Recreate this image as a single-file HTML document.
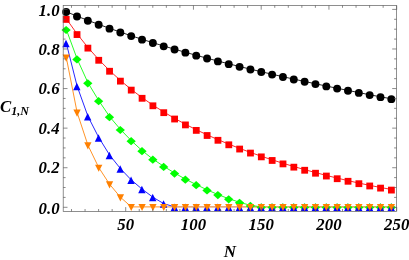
<!DOCTYPE html>
<html><head><meta charset="utf-8"><style>
html,body{margin:0;padding:0;background:#fff;}
body{width:409px;height:260px;overflow:hidden;}
svg{display:block;transform:translateZ(0);will-change:transform;}
text{font-family:"Liberation Serif",serif;font-weight:bold;font-style:italic;font-size:16.8px;fill:#000;}
</style></head><body>
<svg width="409" height="260" viewBox="0 0 409 260">
<rect x="0" y="0" width="409" height="260" fill="#fff"/>
<g transform="translate(0,-0.3)">
<polyline points="66.30,12.07 77.14,16.49 87.98,20.74 98.82,24.73 109.66,28.67 120.50,32.46 131.34,36.11 142.18,39.64 153.02,43.05 163.86,46.35 174.70,49.54 185.54,52.64 196.38,55.64 207.22,58.56 218.06,61.40 228.90,64.17 239.74,66.87 250.58,69.50 261.42,72.07 272.26,74.58 283.10,77.04 293.94,79.45 304.78,81.80 315.62,84.11 326.46,86.38 337.30,88.60 348.14,90.77 358.98,92.90 369.82,95.09 380.66,97.13 391.50,99.13" fill="none" stroke="#000000" stroke-width="0.85"/>
<polyline points="66.30,19.12 77.14,34.27 87.98,47.83 98.82,59.99 109.66,70.95 120.50,80.84 131.34,89.82 142.18,98.00 153.02,105.49 163.86,112.37 174.70,118.72 185.54,124.61 196.38,130.09 207.22,135.20 218.06,140.00 228.90,144.50 239.74,148.75 250.58,152.77 261.42,156.57 272.26,160.17 283.10,163.60 293.94,166.86 304.78,169.96 315.62,172.92 326.46,175.74 337.30,178.42 348.14,180.98 358.98,183.39 369.82,185.68 380.66,187.81 391.50,189.79" fill="none" stroke="#ff0000" stroke-width="0.85"/>
<polyline points="66.30,29.80 77.14,59.20 87.98,83.10 98.82,101.00 109.66,117.00 120.50,129.80 131.34,141.00 142.18,151.00 153.02,159.50 163.86,166.70 174.70,173.40 185.54,179.50 196.38,185.00 207.22,190.20 218.06,194.90 228.90,199.10 239.74,202.60 250.58,205.70 261.42,207.20" fill="none" stroke="#00ff00" stroke-width="0.85"/>
<polyline points="261.42,207.20 272.26,207.20 283.10,207.20 293.94,207.20 304.78,207.20 315.62,207.20 326.46,207.20 337.30,207.20 348.14,207.20 358.98,207.20 369.82,207.20 380.66,207.20 391.50,207.20" fill="none" stroke="#00ff00" stroke-width="0.85" stroke-opacity="0.3"/>
<polyline points="66.30,43.50 77.14,86.50 87.98,116.70 98.82,137.90 109.66,155.40 120.50,169.00 131.34,180.30 142.18,189.50 153.02,197.60 163.86,204.00 174.70,207.20" fill="none" stroke="#0000ff" stroke-width="0.85"/>
<polyline points="174.70,207.20 185.54,207.20 196.38,207.20 207.22,207.20 218.06,207.20 228.90,207.20 239.74,207.20 250.58,207.20 261.42,207.20 272.26,207.20 283.10,207.20 293.94,207.20 304.78,207.20 315.62,207.20 326.46,207.20 337.30,207.20 348.14,207.20 358.98,207.20 369.82,207.20 380.66,207.20 391.50,207.20" fill="none" stroke="#0000ff" stroke-width="0.85" stroke-opacity="0.3"/>
<polyline points="66.30,57.80 77.14,112.80 87.98,145.60 98.82,168.00 109.66,184.60 120.50,197.60 131.34,207.20 142.18,207.20 153.02,207.20 163.86,207.20 174.70,207.20 185.54,207.20 196.38,207.20 207.22,207.20 218.06,207.20 228.90,207.20 239.74,207.20 250.58,207.20 261.42,207.20 272.26,207.20 283.10,207.20 293.94,207.20 304.78,207.20 315.62,207.20 326.46,207.20 337.30,207.20 348.14,207.20 358.98,207.20 369.82,207.20 380.66,207.20 391.50,207.20" fill="none" stroke="#ff8000" stroke-width="0.85"/>
</g>
<g>
<circle cx="66.15" cy="12.07" r="3.95" fill="#000000"/>
<circle cx="76.99" cy="16.49" r="3.95" fill="#000000"/>
<circle cx="87.83" cy="20.74" r="3.95" fill="#000000"/>
<circle cx="98.67" cy="24.73" r="3.95" fill="#000000"/>
<circle cx="109.51" cy="28.67" r="3.95" fill="#000000"/>
<circle cx="120.35" cy="32.46" r="3.95" fill="#000000"/>
<circle cx="131.19" cy="36.11" r="3.95" fill="#000000"/>
<circle cx="142.03" cy="39.64" r="3.95" fill="#000000"/>
<circle cx="152.87" cy="43.05" r="3.95" fill="#000000"/>
<circle cx="163.71" cy="46.35" r="3.95" fill="#000000"/>
<circle cx="174.55" cy="49.54" r="3.95" fill="#000000"/>
<circle cx="185.39" cy="52.64" r="3.95" fill="#000000"/>
<circle cx="196.23" cy="55.64" r="3.95" fill="#000000"/>
<circle cx="207.07" cy="58.56" r="3.95" fill="#000000"/>
<circle cx="217.91" cy="61.40" r="3.95" fill="#000000"/>
<circle cx="228.75" cy="64.17" r="3.95" fill="#000000"/>
<circle cx="239.59" cy="66.87" r="3.95" fill="#000000"/>
<circle cx="250.43" cy="69.50" r="3.95" fill="#000000"/>
<circle cx="261.27" cy="72.07" r="3.95" fill="#000000"/>
<circle cx="272.11" cy="74.58" r="3.95" fill="#000000"/>
<circle cx="282.95" cy="77.04" r="3.95" fill="#000000"/>
<circle cx="293.79" cy="79.45" r="3.95" fill="#000000"/>
<circle cx="304.63" cy="81.80" r="3.95" fill="#000000"/>
<circle cx="315.47" cy="84.11" r="3.95" fill="#000000"/>
<circle cx="326.31" cy="86.38" r="3.95" fill="#000000"/>
<circle cx="337.15" cy="88.60" r="3.95" fill="#000000"/>
<circle cx="347.99" cy="90.77" r="3.95" fill="#000000"/>
<circle cx="358.83" cy="92.90" r="3.95" fill="#000000"/>
<circle cx="369.67" cy="95.09" r="3.95" fill="#000000"/>
<circle cx="380.51" cy="97.13" r="3.95" fill="#000000"/>
<circle cx="391.35" cy="99.13" r="3.95" fill="#000000"/>
<rect x="62.80" y="16.02" width="6.8" height="6.8" fill="#ff0000"/>
<rect x="73.64" y="31.17" width="6.8" height="6.8" fill="#ff0000"/>
<rect x="84.48" y="44.73" width="6.8" height="6.8" fill="#ff0000"/>
<rect x="95.32" y="56.89" width="6.8" height="6.8" fill="#ff0000"/>
<rect x="106.16" y="67.85" width="6.8" height="6.8" fill="#ff0000"/>
<rect x="117.00" y="77.74" width="6.8" height="6.8" fill="#ff0000"/>
<rect x="127.84" y="86.72" width="6.8" height="6.8" fill="#ff0000"/>
<rect x="138.68" y="94.90" width="6.8" height="6.8" fill="#ff0000"/>
<rect x="149.52" y="102.39" width="6.8" height="6.8" fill="#ff0000"/>
<rect x="160.36" y="109.27" width="6.8" height="6.8" fill="#ff0000"/>
<rect x="171.20" y="115.62" width="6.8" height="6.8" fill="#ff0000"/>
<rect x="182.04" y="121.51" width="6.8" height="6.8" fill="#ff0000"/>
<rect x="192.88" y="126.99" width="6.8" height="6.8" fill="#ff0000"/>
<rect x="203.72" y="132.10" width="6.8" height="6.8" fill="#ff0000"/>
<rect x="214.56" y="136.90" width="6.8" height="6.8" fill="#ff0000"/>
<rect x="225.40" y="141.40" width="6.8" height="6.8" fill="#ff0000"/>
<rect x="236.24" y="145.65" width="6.8" height="6.8" fill="#ff0000"/>
<rect x="247.08" y="149.67" width="6.8" height="6.8" fill="#ff0000"/>
<rect x="257.92" y="153.47" width="6.8" height="6.8" fill="#ff0000"/>
<rect x="268.76" y="157.07" width="6.8" height="6.8" fill="#ff0000"/>
<rect x="279.60" y="160.50" width="6.8" height="6.8" fill="#ff0000"/>
<rect x="290.44" y="163.76" width="6.8" height="6.8" fill="#ff0000"/>
<rect x="301.28" y="166.86" width="6.8" height="6.8" fill="#ff0000"/>
<rect x="312.12" y="169.82" width="6.8" height="6.8" fill="#ff0000"/>
<rect x="322.96" y="172.64" width="6.8" height="6.8" fill="#ff0000"/>
<rect x="333.80" y="175.32" width="6.8" height="6.8" fill="#ff0000"/>
<rect x="344.64" y="177.88" width="6.8" height="6.8" fill="#ff0000"/>
<rect x="355.48" y="180.29" width="6.8" height="6.8" fill="#ff0000"/>
<rect x="366.32" y="182.58" width="6.8" height="6.8" fill="#ff0000"/>
<rect x="377.16" y="184.71" width="6.8" height="6.8" fill="#ff0000"/>
<rect x="388.00" y="186.69" width="6.8" height="6.8" fill="#ff0000"/>
<path d="M61.45,30.00L66.10,25.90L70.75,30.00L66.10,34.10Z" fill="#00ff00"/>
<path d="M72.29,59.40L76.94,55.30L81.59,59.40L76.94,63.50Z" fill="#00ff00"/>
<path d="M83.13,83.30L87.78,79.20L92.43,83.30L87.78,87.40Z" fill="#00ff00"/>
<path d="M93.97,101.20L98.62,97.10L103.27,101.20L98.62,105.30Z" fill="#00ff00"/>
<path d="M104.81,117.20L109.46,113.10L114.11,117.20L109.46,121.30Z" fill="#00ff00"/>
<path d="M115.65,130.00L120.30,125.90L124.95,130.00L120.30,134.10Z" fill="#00ff00"/>
<path d="M126.49,141.20L131.14,137.10L135.79,141.20L131.14,145.30Z" fill="#00ff00"/>
<path d="M137.33,151.20L141.98,147.10L146.63,151.20L141.98,155.30Z" fill="#00ff00"/>
<path d="M148.17,159.70L152.82,155.60L157.47,159.70L152.82,163.80Z" fill="#00ff00"/>
<path d="M159.01,166.90L163.66,162.80L168.31,166.90L163.66,171.00Z" fill="#00ff00"/>
<path d="M169.85,173.60L174.50,169.50L179.15,173.60L174.50,177.70Z" fill="#00ff00"/>
<path d="M180.69,179.70L185.34,175.60L189.99,179.70L185.34,183.80Z" fill="#00ff00"/>
<path d="M191.53,185.20L196.18,181.10L200.83,185.20L196.18,189.30Z" fill="#00ff00"/>
<path d="M202.37,190.40L207.02,186.30L211.67,190.40L207.02,194.50Z" fill="#00ff00"/>
<path d="M213.21,195.10L217.86,191.00L222.51,195.10L217.86,199.20Z" fill="#00ff00"/>
<path d="M224.05,199.30L228.70,195.20L233.35,199.30L228.70,203.40Z" fill="#00ff00"/>
<path d="M234.89,202.80L239.54,198.70L244.19,202.80L239.54,206.90Z" fill="#00ff00"/>
<path d="M245.73,205.90L250.38,201.80L255.03,205.90L250.38,210.00Z" fill="#00ff00"/>
<path d="M256.57,207.40L261.22,203.30L265.87,207.40L261.22,211.50Z" fill="#00ff00"/>
<path d="M267.41,207.40L272.06,203.30L276.71,207.40L272.06,211.50Z" fill="#00ff00"/>
<path d="M278.25,207.40L282.90,203.30L287.55,207.40L282.90,211.50Z" fill="#00ff00"/>
<path d="M289.09,207.40L293.74,203.30L298.39,207.40L293.74,211.50Z" fill="#00ff00"/>
<path d="M299.93,207.40L304.58,203.30L309.23,207.40L304.58,211.50Z" fill="#00ff00"/>
<path d="M310.77,207.40L315.42,203.30L320.07,207.40L315.42,211.50Z" fill="#00ff00"/>
<path d="M321.61,207.40L326.26,203.30L330.91,207.40L326.26,211.50Z" fill="#00ff00"/>
<path d="M332.45,207.40L337.10,203.30L341.75,207.40L337.10,211.50Z" fill="#00ff00"/>
<path d="M343.29,207.40L347.94,203.30L352.59,207.40L347.94,211.50Z" fill="#00ff00"/>
<path d="M354.13,207.40L358.78,203.30L363.43,207.40L358.78,211.50Z" fill="#00ff00"/>
<path d="M364.97,207.40L369.62,203.30L374.27,207.40L369.62,211.50Z" fill="#00ff00"/>
<path d="M375.81,207.40L380.46,203.30L385.11,207.40L380.46,211.50Z" fill="#00ff00"/>
<path d="M386.65,207.40L391.30,203.30L395.95,207.40L391.30,211.50Z" fill="#00ff00"/>
<path d="M62.30,47.25L69.70,47.25L66.00,39.75Z" fill="#0000ff"/>
<path d="M73.14,90.25L80.54,90.25L76.84,82.75Z" fill="#0000ff"/>
<path d="M83.98,120.45L91.38,120.45L87.68,112.95Z" fill="#0000ff"/>
<path d="M94.82,141.65L102.22,141.65L98.52,134.15Z" fill="#0000ff"/>
<path d="M105.66,159.15L113.06,159.15L109.36,151.65Z" fill="#0000ff"/>
<path d="M116.50,172.75L123.90,172.75L120.20,165.25Z" fill="#0000ff"/>
<path d="M127.34,184.05L134.74,184.05L131.04,176.55Z" fill="#0000ff"/>
<path d="M138.18,193.25L145.58,193.25L141.88,185.75Z" fill="#0000ff"/>
<path d="M149.02,201.35L156.42,201.35L152.72,193.85Z" fill="#0000ff"/>
<path d="M159.86,207.75L167.26,207.75L163.56,200.25Z" fill="#0000ff"/>
<path d="M170.70,210.95L178.10,210.95L174.40,203.45Z" fill="#0000ff"/>
<path d="M181.54,210.95L188.94,210.95L185.24,203.45Z" fill="#0000ff"/>
<path d="M192.38,210.95L199.78,210.95L196.08,203.45Z" fill="#0000ff"/>
<path d="M203.22,210.95L210.62,210.95L206.92,203.45Z" fill="#0000ff"/>
<path d="M214.06,210.95L221.46,210.95L217.76,203.45Z" fill="#0000ff"/>
<path d="M224.90,210.95L232.30,210.95L228.60,203.45Z" fill="#0000ff"/>
<path d="M235.74,210.95L243.14,210.95L239.44,203.45Z" fill="#0000ff"/>
<path d="M246.58,210.95L253.98,210.95L250.28,203.45Z" fill="#0000ff"/>
<path d="M257.42,210.95L264.82,210.95L261.12,203.45Z" fill="#0000ff"/>
<path d="M268.26,210.95L275.66,210.95L271.96,203.45Z" fill="#0000ff"/>
<path d="M279.10,210.95L286.50,210.95L282.80,203.45Z" fill="#0000ff"/>
<path d="M289.94,210.95L297.34,210.95L293.64,203.45Z" fill="#0000ff"/>
<path d="M300.78,210.95L308.18,210.95L304.48,203.45Z" fill="#0000ff"/>
<path d="M311.62,210.95L319.02,210.95L315.32,203.45Z" fill="#0000ff"/>
<path d="M322.46,210.95L329.86,210.95L326.16,203.45Z" fill="#0000ff"/>
<path d="M333.30,210.95L340.70,210.95L337.00,203.45Z" fill="#0000ff"/>
<path d="M344.14,210.95L351.54,210.95L347.84,203.45Z" fill="#0000ff"/>
<path d="M354.98,210.95L362.38,210.95L358.68,203.45Z" fill="#0000ff"/>
<path d="M365.82,210.95L373.22,210.95L369.52,203.45Z" fill="#0000ff"/>
<path d="M376.66,210.95L384.06,210.95L380.36,203.45Z" fill="#0000ff"/>
<path d="M387.50,210.95L394.90,210.95L391.20,203.45Z" fill="#0000ff"/>
<path d="M62.55,54.55L69.85,54.55L66.20,61.65Z" fill="#ff8000"/>
<path d="M73.39,109.55L80.69,109.55L77.04,116.65Z" fill="#ff8000"/>
<path d="M84.23,142.35L91.53,142.35L87.88,149.45Z" fill="#ff8000"/>
<path d="M95.07,164.75L102.37,164.75L98.72,171.85Z" fill="#ff8000"/>
<path d="M105.91,181.35L113.21,181.35L109.56,188.45Z" fill="#ff8000"/>
<path d="M116.75,194.35L124.05,194.35L120.40,201.45Z" fill="#ff8000"/>
<path d="M127.59,203.95L134.89,203.95L131.24,211.05Z" fill="#ff8000"/>
<path d="M138.43,203.95L145.73,203.95L142.08,211.05Z" fill="#ff8000"/>
<path d="M149.27,203.95L156.57,203.95L152.92,211.05Z" fill="#ff8000"/>
<path d="M160.11,203.95L167.41,203.95L163.76,211.05Z" fill="#ff8000"/>
<path d="M170.95,203.95L178.25,203.95L174.60,211.05Z" fill="#ff8000"/>
<path d="M181.79,203.95L189.09,203.95L185.44,211.05Z" fill="#ff8000"/>
<path d="M192.63,203.95L199.93,203.95L196.28,211.05Z" fill="#ff8000"/>
<path d="M203.47,203.95L210.77,203.95L207.12,211.05Z" fill="#ff8000"/>
<path d="M214.31,203.95L221.61,203.95L217.96,211.05Z" fill="#ff8000"/>
<path d="M225.15,203.95L232.45,203.95L228.80,211.05Z" fill="#ff8000"/>
<path d="M235.99,203.95L243.29,203.95L239.64,211.05Z" fill="#ff8000"/>
<path d="M246.83,203.95L254.13,203.95L250.48,211.05Z" fill="#ff8000"/>
<path d="M257.67,203.95L264.97,203.95L261.32,211.05Z" fill="#ff8000"/>
<path d="M268.51,203.95L275.81,203.95L272.16,211.05Z" fill="#ff8000"/>
<path d="M279.35,203.95L286.65,203.95L283.00,211.05Z" fill="#ff8000"/>
<path d="M290.19,203.95L297.49,203.95L293.84,211.05Z" fill="#ff8000"/>
<path d="M301.03,203.95L308.33,203.95L304.68,211.05Z" fill="#ff8000"/>
<path d="M311.87,203.95L319.17,203.95L315.52,211.05Z" fill="#ff8000"/>
<path d="M322.71,203.95L330.01,203.95L326.36,211.05Z" fill="#ff8000"/>
<path d="M333.55,203.95L340.85,203.95L337.20,211.05Z" fill="#ff8000"/>
<path d="M344.39,203.95L351.69,203.95L348.04,211.05Z" fill="#ff8000"/>
<path d="M355.23,203.95L362.53,203.95L358.88,211.05Z" fill="#ff8000"/>
<path d="M366.07,203.95L373.37,203.95L369.72,211.05Z" fill="#ff8000"/>
<path d="M376.91,203.95L384.21,203.95L380.56,211.05Z" fill="#ff8000"/>
<path d="M387.75,203.95L395.05,203.95L391.40,211.05Z" fill="#ff8000"/>
</g>
<rect x="63.2" y="5.4" width="333.3" height="206.0" fill="none" stroke="#606060" stroke-width="0.7"/>
<path d="M71.50,211.4v-2.4M71.50,5.4v2.4M85.05,211.4v-2.4M85.05,5.4v2.4M98.60,211.4v-2.4M98.60,5.4v2.4M112.15,211.4v-2.4M112.15,5.4v2.4M125.70,211.4v-4.3M125.70,5.4v4.3M139.25,211.4v-2.4M139.25,5.4v2.4M152.80,211.4v-2.4M152.80,5.4v2.4M166.35,211.4v-2.4M166.35,5.4v2.4M179.90,211.4v-2.4M179.90,5.4v2.4M193.45,211.4v-4.3M193.45,5.4v4.3M207.00,211.4v-2.4M207.00,5.4v2.4M220.55,211.4v-2.4M220.55,5.4v2.4M234.10,211.4v-2.4M234.10,5.4v2.4M247.65,211.4v-2.4M247.65,5.4v2.4M261.20,211.4v-4.3M261.20,5.4v4.3M274.75,211.4v-2.4M274.75,5.4v2.4M288.30,211.4v-2.4M288.30,5.4v2.4M301.85,211.4v-2.4M301.85,5.4v2.4M315.40,211.4v-2.4M315.40,5.4v2.4M328.95,211.4v-4.3M328.95,5.4v4.3M342.50,211.4v-2.4M342.50,5.4v2.4M356.05,211.4v-2.4M356.05,5.4v2.4M369.60,211.4v-2.4M369.60,5.4v2.4M383.15,211.4v-2.4M383.15,5.4v2.4M396.70,211.4v-4.3M396.70,5.4v4.3M63.2,207.30h4.3M396.5,207.30h-4.3M63.2,197.41h2.4M396.5,197.41h-2.4M63.2,187.51h2.4M396.5,187.51h-2.4M63.2,177.62h2.4M396.5,177.62h-2.4M63.2,167.72h4.3M396.5,167.72h-4.3M63.2,157.83h2.4M396.5,157.83h-2.4M63.2,147.93h2.4M396.5,147.93h-2.4M63.2,138.03h2.4M396.5,138.03h-2.4M63.2,128.14h4.3M396.5,128.14h-4.3M63.2,118.25h2.4M396.5,118.25h-2.4M63.2,108.35h2.4M396.5,108.35h-2.4M63.2,98.45h2.4M396.5,98.45h-2.4M63.2,88.56h4.3M396.5,88.56h-4.3M63.2,78.66h2.4M396.5,78.66h-2.4M63.2,68.77h2.4M396.5,68.77h-2.4M63.2,58.88h2.4M396.5,58.88h-2.4M63.2,48.98h4.3M396.5,48.98h-4.3M63.2,39.08h2.4M396.5,39.08h-2.4M63.2,29.19h2.4M396.5,29.19h-2.4M63.2,19.29h2.4M396.5,19.29h-2.4M63.2,9.40h4.3M396.5,9.40h-4.3" fill="none" stroke="#5a5a5a" stroke-width="0.7"/>
<text x="125.70" y="230.3" text-anchor="middle">50</text>
<text x="193.45" y="230.3" text-anchor="middle">100</text>
<text x="261.20" y="230.3" text-anchor="middle">150</text>
<text x="328.95" y="230.3" text-anchor="middle">200</text>
<text x="396.70" y="230.3" text-anchor="middle">250</text>
<text x="59.6" y="213.60" text-anchor="end">0.0</text>
<text x="59.6" y="173.10" text-anchor="end">0.2</text>
<text x="59.6" y="133.70" text-anchor="end">0.4</text>
<text x="59.6" y="94.00" text-anchor="end">0.6</text>
<text x="59.6" y="54.60" text-anchor="end">0.8</text>
<text x="59.6" y="15.60" text-anchor="end">1.0</text>
<text x="0.1" y="111.8" style="font-size:16.8px">C<tspan dy="3.4" dx="0" style="font-size:12px">1,N</tspan></text>
<text x="230" y="256.7" text-anchor="middle" style="font-size:17px">N</text>
</svg>
</body></html>
